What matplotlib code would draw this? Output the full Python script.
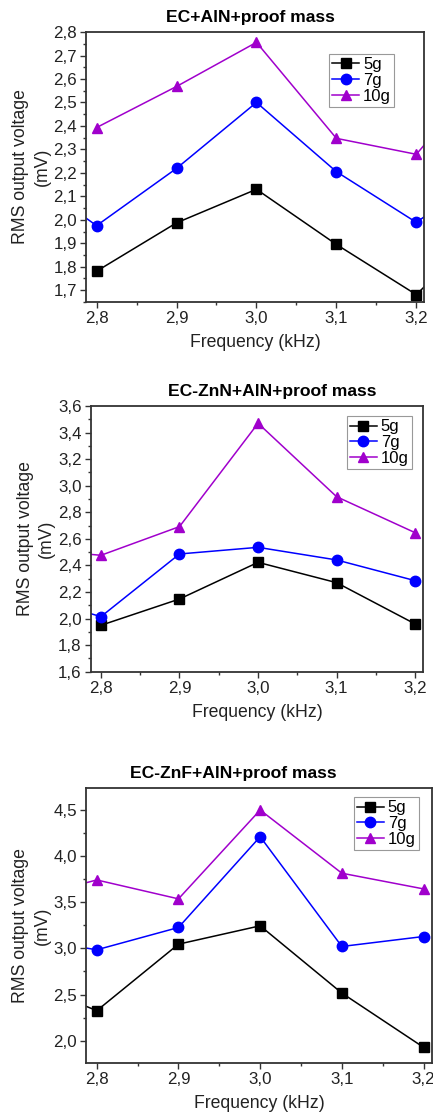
import numpy as np
import matplotlib
matplotlib.use("Agg")
import matplotlib.pyplot as plt
from matplotlib.ticker import MultipleLocator, FuncFormatter

plt.rcParams['font.family'] = ['Liberation Sans', 'DejaVu Sans']

# frequency points (kHz); 2.7 and 3.3 only show as clipped line ends
freq = [2.7, 2.8, 2.9, 3.0, 3.1, 3.2, 3.3]
labels = ["5g", "7g", "10g"]

# EC+AlN+proof mass
ec_5g = [np.nan, 1.781, 1.987, 2.130, 1.895, 1.681, 2.02]
ec_7g = [2.22, 1.975, 2.219, 2.500, 2.205, 1.989, 2.23]
ec_10g = [np.nan, 2.393, 2.568, 2.756, 2.347, 2.279, 2.68]

# EC-ZnN+AlN+proof mass
znn_5g = [np.nan, 1.949, 2.147, 2.423, 2.270, 1.959, np.nan]
znn_7g = [2.19, 2.014, 2.486, 2.536, 2.441, 2.285, np.nan]
znn_10g = [2.53, 2.476, 2.692, 3.470, 2.917, 2.646, np.nan]

# EC-ZnF+AlN+proof mass
znf_5g = [2.69, 2.325, 3.046, 3.245, 2.516, 1.928, np.nan]
znf_7g = [3.13, 2.985, 3.227, 4.211, 3.021, 3.129, np.nan]
znf_10g = [3.51, 3.742, 3.537, 4.500, 3.815, 3.645, np.nan]

colors = ["black", "#0000FF", "#A000CC"]
markers = ["s", "o", "^"]


def comma(v, pos):
    return ("%.1f" % v).replace(".", ",")


def panel(fig, rect, series, title, title_x, ylim, ymajor, yminor, leg_xy):
    ax = fig.add_axes(rect)
    for vals, c, m, lab in zip(series, colors, markers, labels):
        ax.plot(freq, vals, color=c, marker=m, markersize=7.5, linewidth=1.1,
                markeredgecolor=c, label=lab)
    ax.set_xlim(2.787, 3.21)
    ax.set_ylim(*ylim)
    ax.xaxis.set_major_locator(MultipleLocator(0.1))
    ax.xaxis.set_minor_locator(MultipleLocator(0.05))
    ax.yaxis.set_major_locator(MultipleLocator(ymajor))
    ax.yaxis.set_minor_locator(MultipleLocator(yminor))
    ax.xaxis.set_major_formatter(FuncFormatter(comma))
    ax.yaxis.set_major_formatter(FuncFormatter(comma))
    ax.tick_params(which="major", length=4, width=1, labelsize=12.2, colors="#333333",
                   labelcolor="#222222", pad=2.5)
    ax.tick_params(which="minor", length=2.5, width=1, colors="#333333")
    for s in ax.spines.values():
        s.set_color("#333333")
        s.set_linewidth(1.3)
    ax.set_title(title, fontsize=12.6, fontweight="bold", x=title_x, pad=7)
    ax.set_xlabel("Frequency (kHz)", fontsize=12.7, color="#222222", labelpad=6)
    ax.set_ylabel("RMS output voltage\n(mV)", fontsize=12.7, color="#222222",
                  labelpad=2, linespacing=1.35)
    leg = ax.legend(loc="upper right", bbox_to_anchor=leg_xy, fontsize=12,
                    numpoints=1, handlelength=1.6, handletextpad=0.25,
                    borderpad=0.2, labelspacing=0.05, borderaxespad=0,
                    fancybox=False, framealpha=1)
    leg.get_frame().set_edgecolor("#999999")
    leg.get_frame().set_linewidth(0.8)
    return ax


fig = plt.figure(figsize=(4.33, 11.2), dpi=100)

panel(fig, [0.199, 0.7304, 0.781, 0.241], [ec_5g, ec_7g, ec_10g],
      "EC+AlN+proof mass", 0.485, (1.65, 2.8), 0.1, 0.05, (0.911, 0.919))
panel(fig, [0.2095, 0.4003, 0.7675, 0.2372], [znn_5g, znn_7g, znn_10g],
      "EC-ZnN+AlN+proof mass", 0.546, (1.6, 3.6), 0.2, 0.1, (0.967, 0.962))
panel(fig, [0.199, 0.0509, 0.798, 0.2458], [znf_5g, znf_7g, znf_10g],
      "EC-ZnF+AlN+proof mass", 0.425, (1.758, 4.742), 0.5, 0.25, (0.963, 0.966))

fig.savefig("out.png", dpi=100)
